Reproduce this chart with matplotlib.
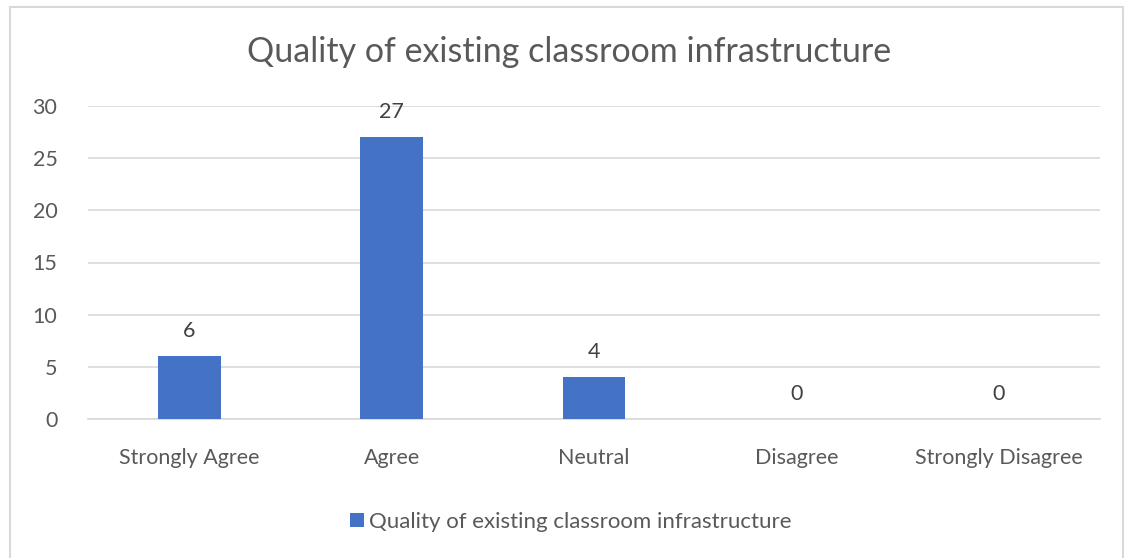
import matplotlib
matplotlib.use("Agg")
import matplotlib.pyplot as plt
from matplotlib import patches

plt.rcParams['font.family'] = ['Lato', 'DejaVu Sans']

categories = ["Strongly Agree", "Agree", "Neutral", "Disagree", "Strongly Disagree"]
values = [6, 27, 4, 0, 0]
series_name = "Quality of existing classroom infrastructure"
yticks = [0, 5, 10, 15, 20, 25, 30]

bar_color = "#4472C4"
text_color = "#595959"
grid_color = "#D9D9D9"

W, H = 1128, 558
fig = plt.figure(figsize=(W / 100, H / 100), dpi=100)
ax = fig.add_axes([88 / W, 1 - 419 / H, (1100 - 88) / W, (419 - 106) / H])

# chart outer border (Excel style)
fig.patches.append(patches.Rectangle((10 / W, -0.05), (1123 - 10) / W, 1 - 7 / H + 0.05,
                                     transform=fig.transFigure, fill=False,
                                     edgecolor=grid_color, linewidth=1.5))

x = list(range(len(categories)))
bars = ax.bar(x, values, width=0.31, color=bar_color, zorder=3, label=series_name)

for xi, v in zip(x, values):
    ax.annotate(str(v), (xi, v), xytext=(0, 11), textcoords="offset points",
                ha="center", va="bottom", fontsize=15.5, color="#404040")

ax.set_xlim(-0.5, len(categories) - 0.5)
ax.set_ylim(0, 30)
ax.set_yticks(yticks)
ax.set_xticks(x)
ax.set_xticklabels(categories)
ax.yaxis.grid(True, color=grid_color, linewidth=1.2, zorder=0)
ax.tick_params(axis="both", length=0, labelsize=15.5, labelcolor=text_color)
ax.tick_params(axis="x", pad=21)
ax.tick_params(axis="y", pad=22)
for s in ["top", "right", "left"]:
    ax.spines[s].set_visible(False)
ax.spines["bottom"].set_color(grid_color)
ax.spines["bottom"].set_linewidth(1.2)

fig.text(569 / W, 1 - 52 / H, series_name, ha="center", va="center",
         fontsize=24.5, color=text_color)

leg = fig.legend(handles=[bars], labels=[series_name], loc="center",
                 bbox_to_anchor=(571 / W, 1 - 522 / H), frameon=False,
                 fontsize=16, handlelength=0.6, handleheight=0.6,
                 handletextpad=0.25)
for t in leg.get_texts():
    t.set_color(text_color)

fig.savefig("out.png", dpi=100)
